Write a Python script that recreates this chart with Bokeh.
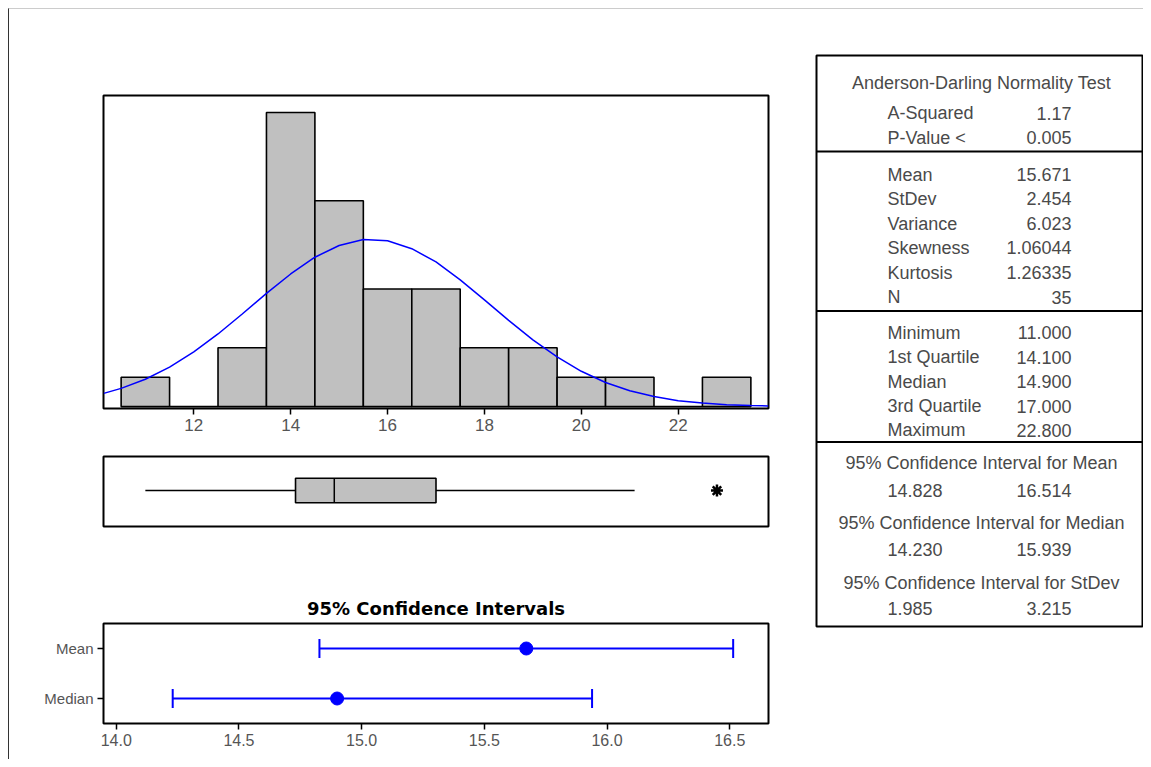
import numpy as np
from bokeh.plotting import figure
from bokeh.layouts import row, column
from bokeh.models import Range1d, FactorRange, FixedTicker, PrintfTickFormatter
from bokeh.core.properties import value
from bokeh.embed import file_html
from bokeh.resources import INLINE

# ---------------- data ----------------
bin_left = [10.5, 11.5, 12.5, 13.5, 14.5, 15.5, 16.5, 17.5, 18.5, 19.5, 20.5, 21.5, 22.5]
bin_right = [11.5, 12.5, 13.5, 14.5, 15.5, 16.5, 17.5, 18.5, 19.5, 20.5, 21.5, 22.5, 23.5]
counts = [1, 0, 2, 10, 7, 4, 4, 2, 2, 1, 1, 0, 1]

curve_x = [10.14, 10.5, 11.0, 11.5, 12.0, 12.5, 13.0, 13.5, 14.0, 14.5, 15.0, 15.5, 16.0,
           16.5, 17.0, 17.5, 18.0, 18.5, 19.0, 19.5, 20.0, 20.5, 21.0, 21.5, 22.0, 22.5,
           23.0, 23.5, 23.86]
curve_y = [0.45, 0.62, 0.93, 1.34, 1.86, 2.47, 3.15, 3.85, 4.51, 5.08, 5.48, 5.68, 5.64,
           5.37, 4.92, 4.31, 3.63, 2.93, 2.27, 1.69, 1.20, 0.82, 0.54, 0.34, 0.20, 0.12,
           0.066, 0.035, 0.024]
hist_ticks = [12, 14, 16, 18, 20, 22]

whisker_low = [11.0]
q1 = [14.1]
med = [14.9]
q3 = [17.0]
whisker_high = [21.1]
outliers = [22.8]

ci_labels = ["Mean", "Median"]
ci_low = [14.828, 14.230]
ci_high = [16.514, 15.939]
ci_point = [15.671, 14.900]
ci_ticks = [14.0, 14.5, 15.0, 15.5, 16.0, 16.5]
ci_title = "95% Confidence Intervals"

table_title = "Anderson-Darling Normality Test"
ad_labels = ["A-Squared", "P-Value <"]
ad_values = ["1.17", "0.005"]
desc_labels = ["Mean", "StDev", "Variance", "Skewness", "Kurtosis", "N"]
desc_values = ["15.671", "2.454", "6.023", "1.06044", "1.26335", "35"]
quart_labels = ["Minimum", "1st Quartile", "Median", "3rd Quartile", "Maximum"]
quart_values = ["11.000", "14.100", "14.900", "17.000", "22.800"]
ci_headings = ["95% Confidence Interval for Mean", "95% Confidence Interval for Median",
               "95% Confidence Interval for StDev"]
ci_text_low = ["14.828", "14.230", "1.985"]
ci_text_high = ["16.514", "15.939", "3.215"]

# ---------------- styles ----------------
BLUE = "#0000ff"
GRAY_FILL = "#c0c0c0"
TXT = "#4a4a4a"
AX_TXT = "#555555"
FONT = "Liberation Sans"
LEFT_W = 791

def base(fig):
    fig.grid.visible = False
    fig.outline_line_color = "black"
    fig.outline_line_width = 2
    fig.background_fill_color = "white"
    fig.border_fill_color = "white"

def style_axis(ax, size):
    ax.axis_line_color = None
    ax.major_tick_out = 6
    ax.major_tick_in = 0
    ax.minor_tick_line_color = None
    ax.major_tick_line_color = "black"
    ax.major_tick_line_width = 1.5
    ax.major_label_text_font = FONT
    ax.major_label_text_font_size = size
    ax.major_label_text_color = AX_TXT
    ax.major_label_standoff = 4

# ---------------- histogram ----------------
xr = Range1d(10.136, 23.864)
hist = figure(width=LEFT_W, height=431, x_range=xr, y_range=Range1d(-0.065, 10.58),
              y_axis_type=None, toolbar_location=None, output_backend="svg",
              min_border_left=94, min_border_right=32, min_border_top=86, min_border_bottom=32)
base(hist)
hist.quad(left=bin_left, right=bin_right, bottom=0, top=counts,
          fill_color=GRAY_FILL, line_color="black", line_width=1.6)
hist.line(curve_x, curve_y, line_color=BLUE, line_width=1.5)
hist.xaxis.ticker = FixedTicker(ticks=hist_ticks)
style_axis(hist.xaxis[0], "17px")

# ---------------- boxplot ----------------
boxp = figure(width=LEFT_W, height=150, x_range=xr, y_range=Range1d(0, 1),
              x_axis_type=None, y_axis_type=None, toolbar_location=None, output_backend="svg",
              min_border_left=94, min_border_right=32, min_border_top=16, min_border_bottom=64)
base(boxp)
ymid = 0.514
boxp.segment(x0=whisker_low, y0=[ymid], x1=q1, y1=[ymid], line_color="black", line_width=1.5)
boxp.segment(x0=q3, y0=[ymid], x1=whisker_high, y1=[ymid], line_color="black", line_width=1.5)
boxp.quad(left=q1, right=q3, bottom=0.339, top=0.69, fill_color=GRAY_FILL,
          line_color="black", line_width=1.6)
boxp.segment(x0=med, y0=[0.339], x1=med, y1=[0.69], line_color="black", line_width=1.5)
boxp.scatter(x=outliers, y=[ymid] * len(outliers), marker="asterisk", size=12,
             line_color="black", line_width=2.5)

# ---------------- confidence intervals ----------------
ci = figure(width=LEFT_W, height=169, x_range=Range1d(13.948, 16.658),
            y_range=FactorRange(factors=["Median", "Mean"]),
            toolbar_location=None, output_backend="svg", title=ci_title,
            min_border_left=94, min_border_right=32, min_border_top=32, min_border_bottom=36)
base(ci)
ci.title.align = "center"
ci.title.text_font = "DejaVu Sans"
ci.title.text_font_style = "bold"
ci.title.text_font_size = "18px"
ci.title.text_color = "black"
ci.segment(x0=ci_low, y0=ci_labels, x1=ci_high, y1=ci_labels, line_color=BLUE, line_width=2)
ci.scatter(x=ci_low + ci_high, y=ci_labels + ci_labels, marker="dash", angle=np.pi / 2,
           size=19, line_color=BLUE, line_width=2)
ci.scatter(x=ci_point, y=ci_labels, marker="circle", size=13, fill_color=BLUE, line_color=BLUE)
ci.xaxis.ticker = FixedTicker(ticks=ci_ticks)
ci.xaxis.formatter = PrintfTickFormatter(format="%.1f")
style_axis(ci.xaxis[0], "16px")
style_axis(ci.yaxis[0], "15px")

# ---------------- table ----------------
TW = 326
TH = 571
tbl = figure(width=343, height=750, x_range=Range1d(0, TW), y_range=Range1d(TH, 0),
             x_axis_type=None, y_axis_type=None, toolbar_location=None, output_backend="svg",
             min_border_left=16, min_border_right=1, min_border_top=46, min_border_bottom=133)
base(tbl)
tbl.segment(x0=[0, 0, 0], y0=[96, 255.5, 386.5], x1=[TW, TW, TW], y1=[96, 255.5, 386.5],
            line_color="black", line_width=2)

XL = 71
XR = 255
XC = 165
tkw = dict(text_baseline="middle", text_font=value(FONT), text_font_size="18px", text_color=TXT)

left_labels = ad_labels + desc_labels + quart_labels
right_values = ad_values + desc_values + quart_values
row_y = [57.5, 82.3, 119, 143, 168, 192.3, 217, 241.7, 277, 301.7, 326, 350.5, 374.7]
tbl.text(x=[XL] * len(left_labels), y=row_y, text=left_labels, text_align="left", **tkw)
tbl.text(x=[XR] * len(right_values), y=row_y, text=right_values, text_align="right", **tkw)

head_y = [27.5, 407, 467, 527.3]
tbl.text(x=[XC] * 4, y=head_y, text=[table_title] + ci_headings, text_align="center", **tkw)
val_y = [434.7, 494, 553.3]
tbl.text(x=[XL] * 3, y=val_y, text=ci_text_low, text_align="left", **tkw)
tbl.text(x=[XR] * 3, y=val_y, text=ci_text_high, text_align="right", **tkw)

left_col = column(hist, boxp, ci, spacing=0)
page = row(left_col, tbl, spacing=0, margin=(8, 0, 0, 8),
           styles={"border-top": "1px solid #cccccc", "border-left": "1px solid #333333"})

open("out.html", "w").write(file_html(page, INLINE))
